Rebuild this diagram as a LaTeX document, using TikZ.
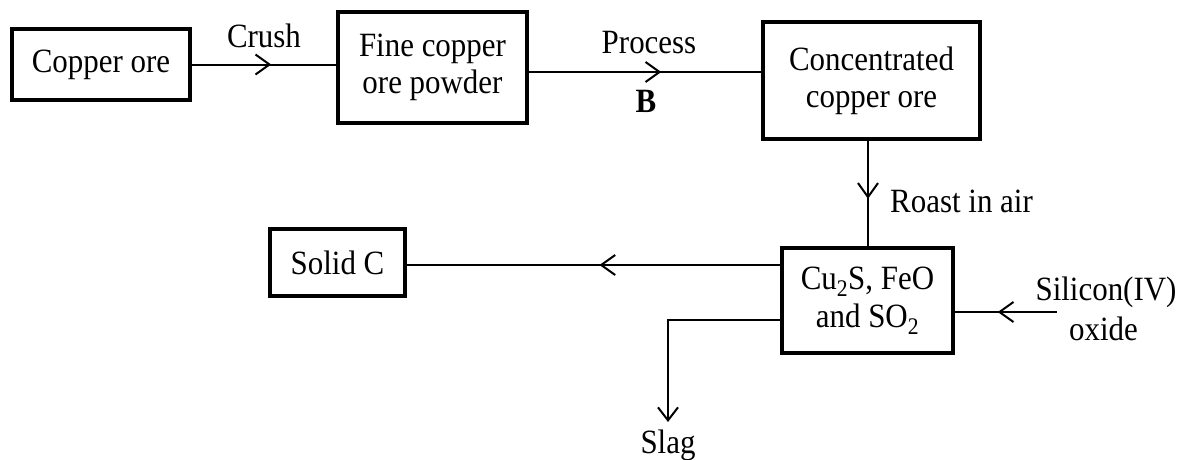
\documentclass[tikz,border=0pt]{standalone}
\usepackage{fontspec}
\setmainfont[FakeStretch=0.91]{Liberation Serif}
\usetikzlibrary{arrows.meta,decorations.markings}
\tikzset{
  txt/.style={font=\fontsize{34}{37}\selectfont},
  box/.style={draw, line width=3.6pt, txt, align=center, inner sep=0pt},
  lbl/.style={txt, inner sep=0pt},
  conn/.style={line width=2pt},
  midarrow/.style={postaction={decorate}, decoration={markings, mark=at position #1 with {\arrow{Straight Barb[length=14pt,width=20pt,line width=2pt]}}}},
  endarrow/.style={-{Straight Barb[length=13pt,width=20pt,line width=2pt]}}
}
\begin{document}
\begin{tikzpicture}[x=1pt,y=-1pt]
\useasboundingbox (0,0) rectangle (1185,459);
\node[box, minimum width=178pt, minimum height=71pt] (ore) at (101,64.5) {Copper ore};
\node[box, minimum width=189pt, minimum height=111pt] (fine) at (432.5,67.5) {Fine copper\\ore powder};
\node[box, minimum width=217pt, minimum height=117pt] (conc) at (871.5,80.5) {Concentrated\\copper ore};
\node[box, minimum width=171pt, minimum height=105pt] (cu) at (867.5,300.5) {Cu\textsubscript{2}S, FeO\\[1pt]and SO\textsubscript{2}};
\node[box, minimum width=135pt, minimum height=67pt] (solid) at (337.5,262.5) {Solid C};

\node[lbl, anchor=base] (crush) at (264,47) {Crush};
\node[lbl, anchor=base] (proc) at (649,53) {Process};
\node[lbl, anchor=base, font=\fontsize{34}{37}\selectfont\bfseries] (B) at (646,112) {B};
\node[lbl, anchor=base west] (roast) at (890,212) {Roast in air};
\node[lbl, anchor=base] (sil1) at (1106,300) {Silicon(IV)};
\node[lbl, anchor=base] (sil2) at (1103.5,340) {oxide};
\node[lbl, anchor=base] (slag) at (668,453) {Slag};

\coordinate (silin) at (1057,312);
\coordinate (slagturn) at (668,320);
\coordinate (slagend) at (668,422);
\coordinate (procline) at (700,72);
\coordinate (roastline) at (868,200);
\coordinate (solidline) at (600,265);

\draw[conn, midarrow=0.55] (ore.east) -- (fine.west |- ore.east);
\draw[conn, midarrow=0.57] (fine.east |- procline) -- (conc.west |- procline);
\draw[conn, midarrow=0.55] (conc.south -| roastline) -- (cu.north -| roastline);
\draw[conn, midarrow=0.484] (cu.west |- solidline) -- (solid.east |- solidline);
\draw[conn, midarrow=0.58] (silin) -- (silin -| cu.east);
\draw[conn, endarrow] (slagturn -| cu.west) -- (slagturn) -- (slagend);
\end{tikzpicture}
\end{document}
